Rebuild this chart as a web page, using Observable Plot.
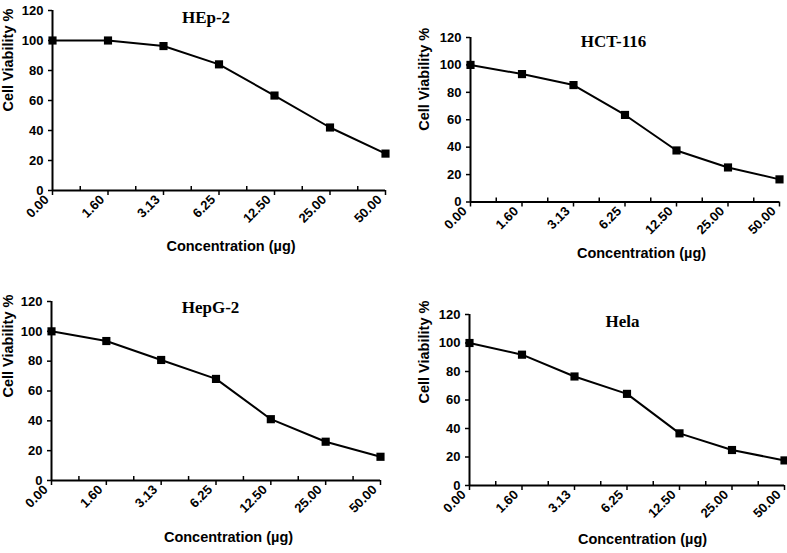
<!DOCTYPE html>
<html>
<head>
<meta charset="utf-8">
<script src="https://cdn.jsdelivr.net/npm/d3@7"></script>
<script src="https://cdn.jsdelivr.net/npm/@observablehq/plot@0.6"></script>
<style>
  html, body { margin: 0; padding: 0; background: white; }
  #chart { position: relative; width: 787px; height: 553px; background: white; overflow: hidden; }
  #chart svg { position: absolute; }
</style>
</head>
<body>
<div id="chart"></div>
<script>
// ---- Data ----
const concentrations = ["0.00", "1.60", "3.13", "6.25", "12.50", "25.00", "50.00"];
const hep2   = [100, 100, 96.3, 84.1, 63.3, 42.0, 24.6];
const hct116 = [100, 93.3, 85.3, 63.5, 37.6, 25.2, 16.5];
const hepg2  = [100, 93.5, 80.8, 68.1, 41.1, 26.0, 15.9];
const hela   = [100, 91.8, 76.5, 64.3, 36.6, 24.9, 17.6];
const titles = ["HEp-2", "HCT-116", "HepG-2", "Hela"];
const yTicks = [0, 20, 40, 60, 80, 100, 120];
const yLabel = "Cell Viability %";
const xLabel = "Concentration (µg)";

// ---- Layout ----
const layouts = [
  {left: 0,   top: 0,   w: 393, h: 276, ml: 52, mr: 8,  mt: 10, mb: 86,
   title: [-13, 0], ylab: [-44, 11], xlab: [12, 60]},
  {left: 393, top: 0,   w: 394, h: 276, ml: 77, mr: 8,  mt: 37, mb: 74.5,
   title: [-11.5, -3], ylab: [-46, 11], xlab: [16.5, 55.5]},
  {left: 0,   top: 276, w: 393, h: 277, ml: 51, mr: 13, mt: 25, mb: 73,
   title: [-5.5, -1], ylab: [-43, 6.5], xlab: [12.5, 61]},
  {left: 393, top: 276, w: 394, h: 277, ml: 76, mr: 3,  mt: 38, mb: 68,
   title: [-4.5, 0], ylab: [-45, 3.5], xlab: [15.5, 58]}
];
const series = [hep2, hct116, hepg2, hela];
const sans = "'Liberation Sans', Arial, sans-serif";

function panel(values, title, L) {
  const data = values.map((v, i) => ({i, v}));
  const fh = L.h - L.mt - L.mb;
  const idx = d3.range(concentrations.length);
  const mids = d3.range(concentrations.length - 1).map(i => i + 0.5);
  const svg = Plot.plot({
    width: L.w, height: L.h,
    marginLeft: L.ml, marginRight: L.mr, marginTop: L.mt, marginBottom: L.mb,
    style: {fontFamily: sans, fontWeight: "bold", color: "black", background: "transparent", overflow: "visible"},
    x: {type: "linear", domain: [0, concentrations.length - 1]},
    y: {domain: [0, 120]},
    marks: [
      // y ticks and labels
      Plot.axisY({ticks: yTicks, tickSize: 4, tickFormat: () => "", label: null, strokeWidth: 1.5}),
      Plot.text(yTicks, {y: d => d, frameAnchor: "left", dx: -9, textAnchor: "end", fontSize: 13, fontWeight: "bold", fontFamily: sans}),
      // x ticks and rotated labels
      Plot.axisX({ticks: idx, tickSize: 5, tickFormat: () => "", label: null, strokeWidth: 1.5}),
      Plot.text(idx, {x: d => d, text: i => concentrations[i], frameAnchor: "bottom", rotate: -45, textAnchor: "end", dx: -3, dy: 10, fontSize: 13, fontWeight: "bold", fontFamily: sans}),
      Plot.ruleX(mids, {insetTop: fh - 4, strokeWidth: 1.5}),
      Plot.ruleX([0], {strokeWidth: 2}),
      Plot.ruleY([0], {strokeWidth: 2}),
      Plot.line(data, {x: "i", y: "v", stroke: "black", strokeWidth: 2}),
      Plot.dot(data, {x: "i", y: "v", symbol: "square", fill: "black", stroke: null, r: 4.6}),
      Plot.text([title], {frameAnchor: "top", dx: L.title[0], dy: L.title[1], fontFamily: "'Liberation Serif', 'Times New Roman', serif", fontSize: 17, fontWeight: "bold"}),
      Plot.text([yLabel], {frameAnchor: "left", rotate: -90, dx: L.ylab[0], dy: L.ylab[1], fontSize: 14.5, fontWeight: "bold", fontFamily: sans}),
      Plot.text([xLabel], {frameAnchor: "bottom", dx: L.xlab[0], dy: L.xlab[1], fontSize: 14.5, fontWeight: "bold", fontFamily: sans})
    ]
  });
  svg.style.left = L.left + "px";
  svg.style.top = L.top + "px";
  return svg;
}

const chart = document.getElementById("chart");
series.forEach((s, k) => chart.appendChild(panel(s, titles[k], layouts[k])));
</script>
</body>
</html>
